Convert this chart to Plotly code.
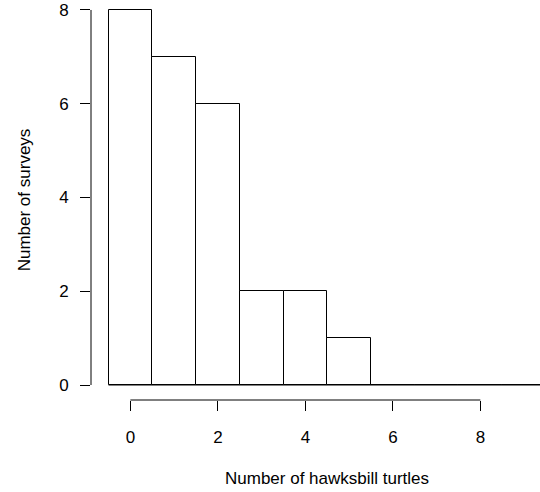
import plotly.graph_objects as go

# Data: histogram of hawksbill turtle counts per survey
bin_centers = [0, 1, 2, 3, 4, 5, 6, 7, 8, 9]
counts = [8, 7, 6, 2, 2, 1, 0, 0, 0, 0]
x_ticks = [0, 2, 4, 6, 8]
y_ticks = [0, 2, 4, 6, 8]

bin_width = 1
edges = [bin_centers[0] - bin_width / 2] + [c + bin_width / 2 for c in bin_centers]

FONT = "Liberation Sans, Arial, Helvetica, sans-serif"
FS = 17

fig = go.Figure()
fig.add_trace(go.Bar(
    x=bin_centers, y=counts, width=bin_width,
    marker=dict(color="white", line=dict(color="black", width=1)),
    showlegend=False, hoverinfo="x+y",
))
# zero-height bins are drawn as a baseline, as in R's hist()
fig.add_trace(go.Scatter(
    x=[edges[0], edges[-1]], y=[0, 0], mode="lines",
    line=dict(color="black", width=1), showlegend=False, hoverinfo="skip",
))

xspan = edges[-1] - edges[0]
xlo = edges[0] - 0.04 * xspan
ylo = y_ticks[0] - 0.04 * (y_ticks[-1] - y_ticks[0])

fig.update_layout(
    width=540, height=492,
    margin=dict(l=91, r=0, t=0, b=92),
    paper_bgcolor="white", plot_bgcolor="white",
    font=dict(family=FONT, size=FS, color="black"),
    bargap=0,
    xaxis=dict(
        range=[xlo, 9.363], tickvals=x_ticks, ticktext=[str(v) for v in x_ticks],
        showgrid=False, zeroline=False, showline=False,
        ticks="outside", ticklen=10, tickwidth=1, tickcolor="black",
        ticklabelstandoff=12,
    ),
    yaxis=dict(
        range=[ylo, 8.213], tickvals=y_ticks, ticktext=[str(v) for v in y_ticks],
        showgrid=False, zeroline=False, showline=False,
        ticks="outside", ticklen=10, tickwidth=1, tickcolor="black",
        ticklabelstandoff=8,
        title=dict(text="Number of surveys", standoff=24, font=dict(size=FS)),
    ),
    shapes=[
        dict(type="line", xref="x", yref="paper", x0=x_ticks[0], x1=x_ticks[-1], y0=0, y1=0,
             line=dict(color="black", width=1)),
        dict(type="line", xref="paper", yref="y", x0=0, x1=0, y0=y_ticks[0], y1=y_ticks[-1],
             line=dict(color="black", width=1)),
    ],
    annotations=[
        dict(text="Number of hawksbill turtles", xref="x", yref="paper",
             x=(edges[0] + edges[-1]) / 2, y=0, yshift=-78, yanchor="middle",
             showarrow=False, font=dict(size=FS)),
    ],
)

fig.write_html("out.html")
